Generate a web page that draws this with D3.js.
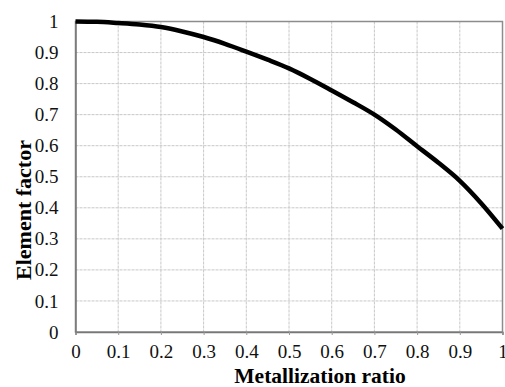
<!DOCTYPE html>
<html>
<head>
<meta charset="utf-8">
<script src="https://cdn.jsdelivr.net/npm/d3@7"></script>
<style>
  body { margin: 0; background: #fff; }
  svg { display: block; }
</style>
</head>
<body>
<div id="container"></div>
<script>
// metallization ratio vs element factor
var ratio = [0, 0.05, 0.1, 0.15, 0.2, 0.25, 0.3, 0.35, 0.4, 0.45, 0.5, 0.55, 0.6, 0.65, 0.7, 0.75, 0.8, 0.85, 0.9, 0.95, 1];
var factor = [1, 0.999, 0.995, 0.99, 0.982, 0.968, 0.95, 0.928, 0.903, 0.877, 0.849, 0.815, 0.778, 0.74, 0.7, 0.652, 0.598, 0.545, 0.487, 0.415, 0.333];
var xTicks = [0, 0.1, 0.2, 0.3, 0.4, 0.5, 0.6, 0.7, 0.8, 0.9, 1];
var yTicks = [0, 0.1, 0.2, 0.3, 0.4, 0.5, 0.6, 0.7, 0.8, 0.9, 1];

var width = 505, height = 387;
var plotLeft = 75.5, plotRight = 502.5, plotTop = 21.5, plotBottom = 332;
var font = '"Liberation Serif", "Times New Roman", serif';

var svg = d3.select('#container')
  .append('svg')
  .attr('width', width)
  .attr('height', height);

var x = d3.scaleLinear().domain([0, 1]).range([plotLeft, plotRight]);
var y = d3.scaleLinear().domain([0, 1]).range([plotBottom, plotTop]);

// grid
svg.append('g').selectAll('line')
  .data(xTicks.slice(1, -1))
  .enter().append('line')
  .attr('x1', function(d) { return x(d); })
  .attr('x2', function(d) { return x(d); })
  .attr('y1', plotTop).attr('y2', plotBottom)
  .style('stroke', '#c8c8c8')
  .style('stroke-width', 1)
  .style('stroke-dasharray', '3,1');

svg.append('g').selectAll('line')
  .data(yTicks.slice(1, -1))
  .enter().append('line')
  .attr('y1', function(d) { return y(d); })
  .attr('y2', function(d) { return y(d); })
  .attr('x1', plotLeft).attr('x2', plotRight)
  .style('stroke', '#c8c8c8')
  .style('stroke-width', 1)
  .style('stroke-dasharray', '3,1');

// frame
svg.append('rect')
  .attr('x', plotLeft).attr('y', plotTop)
  .attr('width', plotRight - plotLeft).attr('height', plotBottom - plotTop)
  .style('fill', 'none')
  .style('stroke', '#8c8c8c')
  .style('stroke-width', 1.5);

// axes
var xAxis = d3.axisBottom(x).tickValues(xTicks).tickSize(3).tickPadding(10)
  .tickFormat(function(d) { return d3.format('')(d); });
var yAxis = d3.axisLeft(y).tickValues(yTicks).tickSize(0).tickPadding(17)
  .tickFormat(function(d) { return d3.format('')(d); });

var gx = svg.append('g').attr('transform', 'translate(0,' + plotBottom + ')').call(xAxis);
var gy = svg.append('g').attr('transform', 'translate(' + plotLeft + ',0)').call(yAxis);

[gx, gy].forEach(function(g) {
  g.select('.domain').style('stroke', '#777').style('stroke-width', 1.5);
  g.selectAll('.tick line').style('stroke', '#999');
  g.selectAll('text')
    .style('font-family', font)
    .style('font-size', '19px')
    .style('fill', '#111');
});

// curve
var line = d3.line()
  .x(function(d, i) { return x(ratio[i]); })
  .y(function(d) { return y(d); })
  .curve(d3.curveMonotoneX);

svg.append('path')
  .datum(factor)
  .attr('d', line)
  .style('fill', 'none')
  .style('stroke', '#000')
  .style('stroke-width', 4.5);

// titles
svg.append('text')
  .attr('x', 320)
  .attr('y', 382.5)
  .attr('text-anchor', 'middle')
  .style('font-family', font)
  .style('font-size', '21.5px')
  .style('font-weight', 'bold')
  .text('Metallization ratio');

svg.append('text')
  .attr('transform', 'translate(31,210) rotate(-90)')
  .attr('text-anchor', 'middle')
  .style('font-family', font)
  .style('font-size', '22px')
  .style('font-weight', 'bold')
  .text('Element factor');
</script>
</body>
</html>
